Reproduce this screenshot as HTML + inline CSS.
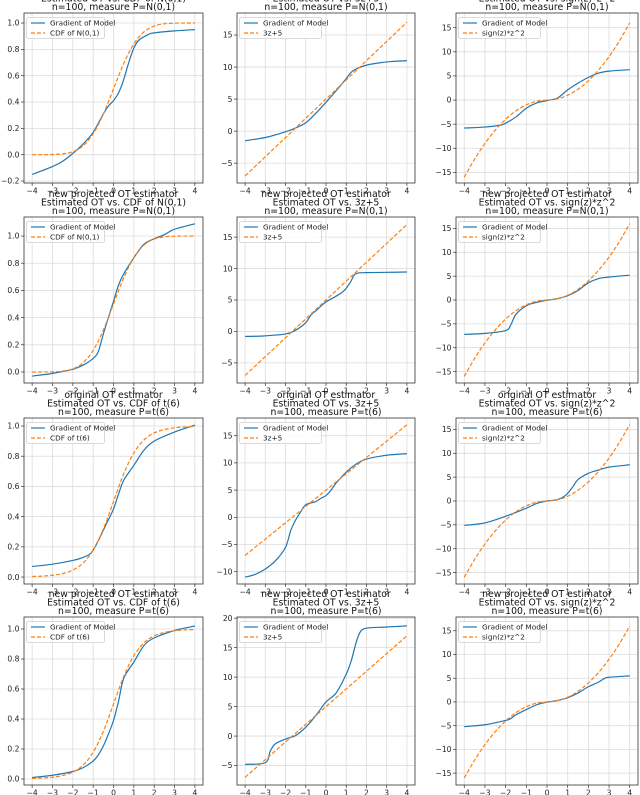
<!DOCTYPE html>
<html><head><meta charset="utf-8"><style>
html,body{margin:0;padding:0;background:#fff}
svg{display:block;font-family:"DejaVu Sans","Liberation Sans",sans-serif}
</style></head><body>
<svg id="fig" width="640" height="795" viewBox="0 0 640 795" xmlns="http://www.w3.org/2000/svg"></svg>
<script>
// ---- data ----
const cdfNx = [-4,-3.5,-3,-2.5,-2,-1.5,-1,-0.5,0,0.5,1,1.5,2,2.5,3,3.5,4];
const cdfNy = [0.00003,0.0002,0.0013,0.0062,0.0228,0.0668,0.1587,0.3085,0.5,0.6915,0.8413,0.9332,0.9772,0.9938,0.9987,0.9998,1.0];
const cdfTy = [0.0036,0.0064,0.012,0.023,0.046,0.092,0.178,0.3174,0.5,0.6826,0.822,0.908,0.954,0.977,0.988,0.9936,0.9964];
const linX = [-4,-2,0,2,4];
const linY = [-7,-1,5,11,17];
const sqY = [-16,-12.25,-9,-6.25,-4,-2.25,-1,-0.25,0,0.25,1,2.25,4,6.25,9,12.25,16];

const g1x=[-4,-3,-2.5,-2,-1.5,-1,-0.5,-0.25,0,0.25,0.5,0.75,1,1.25,1.75,2,3,4];
const g1y=[-0.15,-0.09,-0.05,0.01,0.08,0.17,0.31,0.37,0.41,0.47,0.57,0.70,0.81,0.87,0.915,0.925,0.94,0.95];
const g2x=[-4,-3,-2,-1.5,-1,-0.5,0,0.5,1,1.25,1.5,2,3,4];
const g2y=[-1.5,-1.0,-0.1,0.5,1.3,2.8,4.5,6.3,8.2,9.2,9.7,10.3,10.8,11.0];
const g3x=[-4,-3,-2.25,-2,-1.5,-1,-0.5,0,0.5,1,1.5,2,2.5,3,4];
const g3y=[-5.8,-5.6,-5.2,-4.8,-3.5,-1.7,-0.6,-0.1,0.4,2.1,3.5,4.7,5.6,6.0,6.3];
const g4x=[-4,-3,-2,-1.5,-1,-0.75,-0.5,-0.25,0,0.25,0.5,1,1.5,2,2.5,3,4];
const g4y=[-0.03,-0.01,0.02,0.05,0.10,0.15,0.28,0.40,0.52,0.64,0.72,0.84,0.94,0.98,1.01,1.05,1.09];
const g5x=[-4,-3,-2,-1.5,-1,-0.75,-0.5,0,0.5,0.9,1.2,1.4,1.6,2,3,4];
const g5y=[-0.8,-0.7,-0.4,0.2,1.4,2.6,3.3,4.7,5.6,6.5,7.8,9.0,9.3,9.35,9.4,9.45];
const g6x=[-4,-3,-2,-1.75,-1.5,-1,-0.5,0,0.5,1,1.5,2,2.5,3,4];
const g6y=[-7.2,-7.0,-6.4,-5.2,-3,-1.2,-0.5,-0.05,0.3,0.9,2,3.6,4.5,4.8,5.2];
const g7x=[-4,-3,-2,-1.5,-1.1,-0.75,-0.5,-0.25,0,0.25,0.5,1,1.5,2,3,4];
const g7y=[0.07,0.085,0.11,0.13,0.16,0.24,0.31,0.38,0.45,0.55,0.64,0.74,0.84,0.90,0.96,1.005];
const g8x=[-4,-3.5,-3,-2.5,-2,-1.75,-1.5,-1.25,-1,-0.5,-0.25,0,0.25,0.5,1,1.5,2,3,4];
const g8y=[-11,-10.5,-9.5,-8,-5.5,-2.5,-0.5,1,2.3,2.9,3.5,4,5,6.3,8.3,9.8,10.7,11.4,11.7];
const g9x=[-4,-3,-2,-1,-0.5,0,0.5,0.9,1.25,1.5,2,2.5,3,4];
const g9y=[-5.1,-4.6,-3.2,-1.5,-0.5,0,0.3,1.2,3,4.5,5.8,6.5,7.1,7.6];
const g10x=[-4,-3,-2,-1.5,-1,-0.75,-0.5,-0.25,0,0.25,0.5,1,1.5,2,3,4];
const g10y=[0.01,0.025,0.05,0.075,0.12,0.16,0.22,0.30,0.39,0.52,0.67,0.78,0.89,0.94,0.99,1.02];
const g11x=[-4,-3,-2.75,-2.5,-2,-1.5,-1,-0.5,0,0.5,1,1.25,1.5,1.7,2,3,4];
const g11y=[-4.8,-4.5,-2.5,-1.3,-0.5,0.1,1.5,3.5,5.8,7.3,10.5,12.8,16,17.7,18.3,18.5,18.7];
const g12x=[-4,-3,-2,-1.75,-1.5,-1,-0.5,0,0.5,1,1.5,2,2.5,2.8,3,4];
const g12y=[-5.2,-4.8,-3.9,-3.5,-2.7,-1.6,-0.6,-0.05,0.3,0.9,1.9,3.2,4.2,5.0,5.2,5.5];

const xTicks=[-4,-3,-2,-1,0,1,2,3,4];
const yTicksCdf1=[-0.2,0.0,0.2,0.4,0.6,0.8,1.0];
const yTicksCdf=[0.0,0.2,0.4,0.6,0.8,1.0];
const yTicksLin=[-5,0,5,10,15];
const yTicksLin3=[-10,-5,0,5,10,15];
const yTicksLin4=[-5,0,5,10,15,20];
const yTicksSq=[-15,-10,-5,0,5,10,15];

const rowTitles=[["original OT estimator","N(0,1)","N(0,1)"],["new projected OT estimator","N(0,1)","N(0,1)"],["original OT estimator","t(6)","t(6)"],["new projected OT estimator","t(6)","t(6)"]];

// ---- layout ----
const cols=[[24,203],[237,415],[456,638]];
const rows=[[13,183],[217,383],[418,584],[617,785]];
const ylims=[
 [[-0.215,1.076],[-8.1,18.44],[-17.2,18.05]],
 [[-0.081,1.14],[-8.2,18.2],[-17.4,17.4]],
 [[-0.046,1.053],[-12.26,18.25],[-17.4,17.4]],
 [[-0.04,1.08],[-8.3,20.2],[-17.5,17.9]]];
const yticksAll=[[yTicksCdf1,yTicksLin,yTicksSq],[yTicksCdf,yTicksLin,yTicksSq],[yTicksCdf,yTicksLin3,yTicksSq],[yTicksCdf,yTicksLin4,yTicksSq]];
const blues=[[[g1x,g1y],[g2x,g2y],[g3x,g3y]],[[g4x,g4y],[g5x,g5y],[g6x,g6y]],[[g7x,g7y],[g8x,g8y],[g9x,g9y]],[[g10x,g10y],[g11x,g11y],[g12x,g12y]]];

const NS="http://www.w3.org/2000/svg";
const svg=document.getElementById('fig');
function el(tag,attrs,parent,text){const e=document.createElementNS(NS,tag);for(const k in attrs)e.setAttribute(k,attrs[k]);if(text!==undefined)e.textContent=text;(parent||svg).appendChild(e);return e;}
function fmt(v,dec){const s=v.toFixed(dec);return s.startsWith('-')?'\u2212'+s.slice(1):s;}
function smooth(pts){let d='M'+pts[0][0].toFixed(2)+','+pts[0][1].toFixed(2);
 for(let i=0;i<pts.length-1;i++){const p0=pts[Math.max(0,i-1)],p1=pts[i],p2=pts[i+1],p3=pts[Math.min(pts.length-1,i+2)];
  const c1=[p1[0]+(p2[0]-p0[0])/6,p1[1]+(p2[1]-p0[1])/6],c2=[p2[0]-(p3[0]-p1[0])/6,p2[1]-(p3[1]-p1[1])/6];
  d+=' C'+c1[0].toFixed(2)+','+c1[1].toFixed(2)+' '+c2[0].toFixed(2)+','+c2[1].toFixed(2)+' '+p2[0].toFixed(2)+','+p2[1].toFixed(2);}
 return d;}

for(let r=0;r<4;r++)for(let c=0;c<3;c++){
 const [L,R]=cols[c],[T,B]=rows[r],[y0,y1]=ylims[r][c];
 const sx=v=>L+(v+4.4)/8.8*(R-L), sy=v=>B-(v-y0)/(y1-y0)*(B-T);
 const g=el('g',{});
 
 
 const cx=(L+R)/2;
 const t2=c===0?'Estimated OT vs. CDF of '+rowTitles[r][1]:(c===1?'Estimated OT vs. 3z+5':'Estimated OT vs. sign(z)*z^2');
 const lines=[rowTitles[r][0],t2,'n=100, measure P='+rowTitles[r][2]];
 lines.forEach((s,i)=>{const t=el('text',{x:cx,y:T-23+i*8.6+3,'font-size':'9.3','text-anchor':'middle',fill:'#111'},g,s);
  });
 // grid
 xTicks.forEach(v=>{const x=sx(v);const l=el('line',{x1:x,x2:x,y1:T,y2:B,stroke:'#dcdcdc','stroke-width':0.8},g);
  el('line',{x1:x,x2:x,y1:B,y2:B+3,stroke:'#333','stroke-width':0.7},g);
  const t=el('text',{x:x,y:B+10.5,'font-size':'7.6','text-anchor':'middle',fill:'#222'},g,fmt(v,0));});
 const dec=c===0?1:0;
 yticksAll[r][c].forEach(v=>{const y=sy(v);const l=el('line',{x1:L,x2:R,y1:y,y2:y,stroke:'#dcdcdc','stroke-width':0.8},g);
  el('line',{x1:L-3,x2:L,y1:y,y2:y,stroke:'#333','stroke-width':0.7},g);
  const t=el('text',{x:L-4.5,y:y+2.7,'font-size':'7.6','text-anchor':'end',fill:'#222'},g,fmt(v,dec));});
 // curves
 const clip=el('clipPath',{id:'cp'+r+c},g);el('rect',{x:L,y:T,width:R-L,height:B-T},clip);
 let ox,oy;
 if(c===0){ox=cdfNx;oy=r<2?cdfNy:cdfTy;}else if(c===1){ox=linX;oy=linY;}else{ox=cdfNx;oy=sqY;}
 const [bx,by]=blues[r][c];
 const bp=el('path',{d:smooth(bx.map((v,i)=>[sx(v),sy(by[i])])),fill:'none',stroke:'#1f77b4','stroke-width':1.2,'clip-path':'url(#cp'+r+c+')'},g);
 
 const op=el('path',{d:c===1?('M'+ox.map((v,i)=>sx(v)+','+sy(oy[i])).join(' L')):smooth(ox.map((v,i)=>[sx(v),sy(oy[i])])),fill:'none',stroke:'#ff7f0e','stroke-width':1.2,'stroke-dasharray':'4,2','clip-path':'url(#cp'+r+c+')'},g);
 
 el('rect',{x:L,y:T,width:R-L,height:B-T,fill:'none',stroke:'#333','stroke-width':0.8},g);
 // legend
 const lab=c===0?'CDF of '+rowTitles[r][2]:(c===1?'3z+5':'sign(z)*z^2');
 const lg=el('g',{},g);
 const lw=c===0?78:82;
 el('rect',{x:L+2.5,y:T+4.5,width:lw,height:21,rx:2,fill:'#fff','fill-opacity':0.85,stroke:'#d0d0d0','stroke-width':0.8},lg);
 el('line',{x1:L+7,x2:L+21,y1:T+10,y2:T+10,stroke:'#1f77b4','stroke-width':1.2},lg);
 el('line',{x1:L+7,x2:L+21,y1:T+20,y2:T+20,stroke:'#ff7f0e','stroke-width':1.2,'stroke-dasharray':'4,2'},lg);
 const e1=el('text',{x:L+26,y:T+12.6,'font-size':'7.3',fill:'#222'},lg,'Gradient of Model');
 const e2=el('text',{x:L+26,y:T+22.6,'font-size':'7.3',fill:'#222'},lg,lab);
}
</script>
</body></html>
